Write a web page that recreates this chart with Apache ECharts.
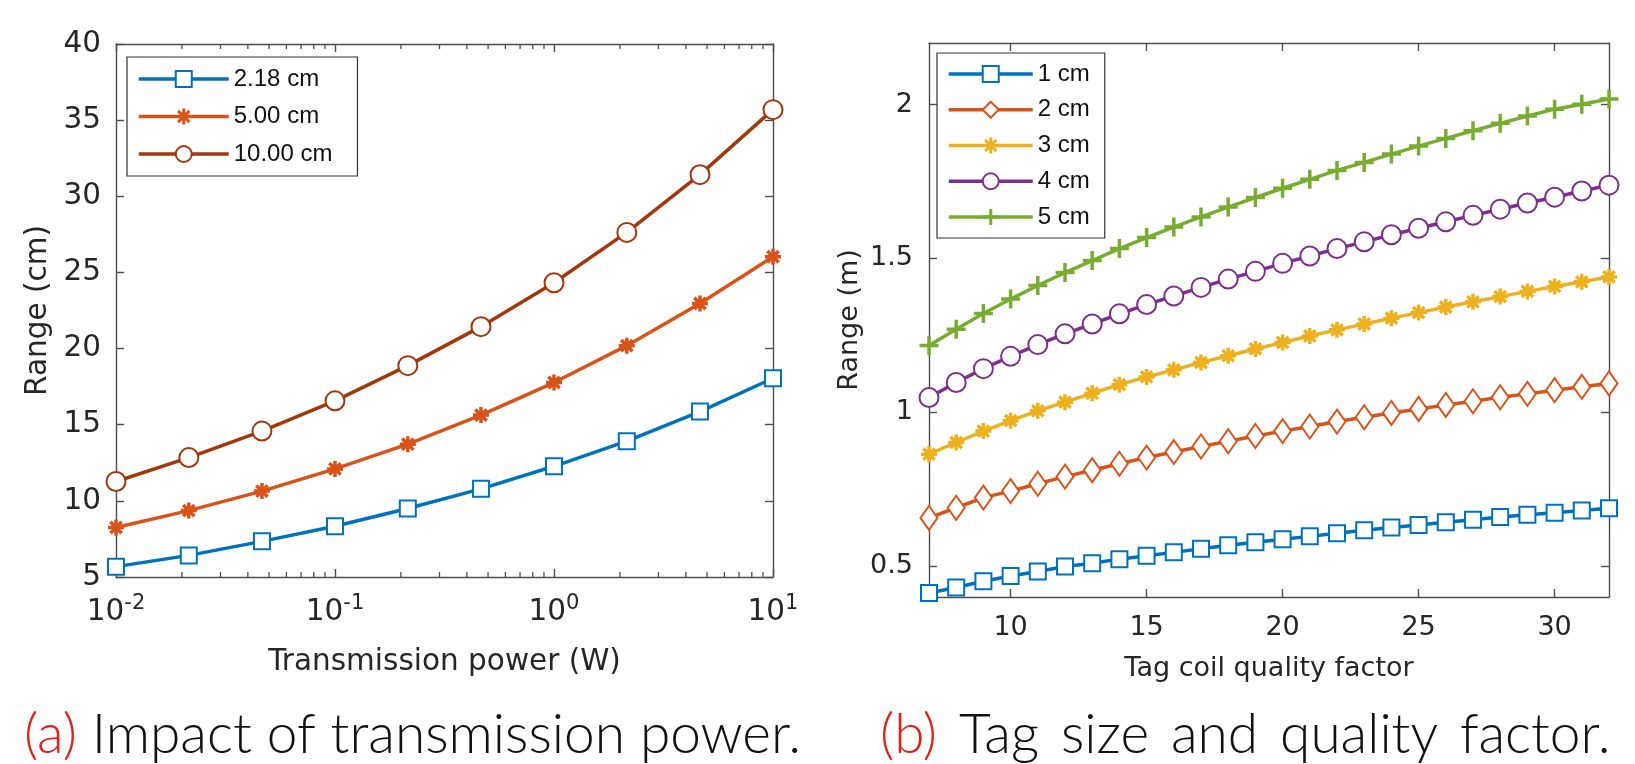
<!DOCTYPE html>
<html>
<head>
<meta charset="utf-8">
<script src="https://cdn.jsdelivr.net/npm/echarts@6/dist/echarts.min.js"></script>
<style>
html,body{margin:0;padding:0;background:#fff;}
#chart{width:1635px;height:764px;}
</style>
</head>
<body>
<div id="chart"></div>
<script>
// ---- Panel (a) data ----
const powerW = [0.01, 0.0215, 0.0464, 0.1, 0.215, 0.464, 1, 2.15, 4.64, 10];
const range218 = [5.68, 6.42, 7.34, 8.33, 9.50, 10.79, 12.27, 13.92, 15.86, 18.05];
const range500 = [8.25, 9.36, 10.64, 12.10, 13.72, 15.63, 17.77, 20.19, 22.96, 26.03];
const range1000 = [11.27, 12.84, 14.58, 16.57, 18.88, 21.44, 24.32, 27.63, 31.42, 35.69];
const minorPowerTicks = [0.02,0.03,0.04,0.05,0.06,0.07,0.08,0.09,0.2,0.3,0.4,0.5,0.6,0.7,0.8,0.9,2,3,4,5,6,7,8,9];
const namesA = ['2.18 cm', '5.00 cm', '10.00 cm'];

// ---- Panel (b) data ----
const qualityFactor = [7,8,9,10,11,12,13,14,15,16,17,18,19,20,21,22,23,24,25,26,27,28,29,30,31,32];
const range1cm = [0.413,0.431,0.451,0.468,0.483,0.499,0.510,0.523,0.534,0.545,0.557,0.568,0.578,0.588,0.597,0.607,0.617,0.626,0.634,0.643,0.651,0.660,0.667,0.674,0.681,0.688];
const range2cm = [0.657,0.690,0.723,0.744,0.768,0.791,0.812,0.833,0.853,0.871,0.889,0.906,0.923,0.939,0.954,0.970,0.984,0.998,1.011,1.024,1.036,1.049,1.060,1.072,1.083,1.094];
const range3cm = [0.864,0.902,0.939,0.973,1.005,1.033,1.062,1.090,1.115,1.138,1.162,1.184,1.206,1.227,1.248,1.268,1.287,1.306,1.324,1.342,1.359,1.376,1.393,1.409,1.424,1.440];
const range4cm = [1.048,1.097,1.142,1.182,1.220,1.255,1.287,1.320,1.350,1.378,1.406,1.433,1.458,1.484,1.508,1.532,1.554,1.577,1.598,1.619,1.640,1.660,1.680,1.699,1.719,1.738];
const range5cm = [1.217,1.270,1.321,1.368,1.412,1.454,1.493,1.532,1.568,1.602,1.635,1.667,1.698,1.728,1.757,1.786,1.812,1.839,1.865,1.890,1.915,1.939,1.963,1.985,2.001,2.018];
const namesB = ['1 cm', '2 cm', '3 cm', '4 cm', '5 cm'];
const qTickLabels = [10, 15, 20, 25, 30];
const rangeMTickLabels = [0.5, 1, 1.5, 2];

const C = {blue:'#0072BD', orange:'#D95319', yellow:'#EDB120', purple:'#7E2F8E', green:'#77AC30', brown:'#A2370A'};
const AX = '#4d4d4d', TXT = '#262626', FONT = 'DejaVu Sans', LFONT = 'Liberation Sans';
const ASTER = 'path://M0,-10L0,10M-10,0L10,0M-7.1,-7.1L7.1,7.1M-7.1,7.1L7.1,-7.1';
const PLUS = 'path://M0,-10L0,10M-10,0L10,0';

function pair(xs, ys){ return xs.map((x,i)=>[x, ys[i]]); }

function lineSeries(name, xi, yi, xs, ys, color, symbol, size, bw){
  return {
    name, type:'line', xAxisIndex:xi, yAxisIndex:yi, data: pair(xs, ys),
    symbol, symbolSize:size, showAllSymbol:true, clip:false,
    lineStyle:{color, width:3.5},
    itemStyle:{color:color, borderColor:color, borderWidth:bw},
    emphasis:{disabled:true}, animation:false
  };
}

const supFmt = v => {
  const e = Math.round(Math.log10(v));
  return '{b|10}{s|' + e + '}';
};

const baseAxisLine = {show:true, lineStyle:{color:AX, width:1.4}};
const tickIn = (len) => ({show:true, inside:true, length:len, lineStyle:{color:AX, width:1.4}});
const capStyle = {fontFamily:'Lato', fontWeight:300, fontSize:55, color:'#111'};
const capRed = {fontFamily:'Lato', fontWeight:300, fontSize:55, color:'#E0221B'};
const legendCommon = {
  orient:'vertical', itemHeight:20, borderColor:'#333', borderWidth:1.2, backgroundColor:'#fff',
  textStyle:{fontFamily:LFONT, fontSize:24, color:'#111'}, selectedMode:false,
  lineStyle:{width:3.5}, itemStyle:{borderWidth:3}
};

const chart = echarts.init(document.getElementById('chart'), null, {renderer:'canvas'});
const option = {
  backgroundColor:'#fff',
  animation:false,
  textStyle:{fontFamily:FONT},
  title:[
    {text:'{r|(a)} Impact of transmission power.', left:19, top:703,
     textStyle:Object.assign({}, capStyle, {rich:{r:capRed}})},
    {text:'{r|(b)}{w| Tag}{w| size}{w| and}{w| quality}{w| factor.}', left:875, top:703,
     textStyle:Object.assign({}, capStyle, {rich:{r:capRed, w:Object.assign({}, capStyle, {padding:[0,0,0,7]})}})}
  ],
  grid:[
    {left:116, top:44, width:657, height:533, show:false},
    {left:929, top:43, width:680, height:554, show:false}
  ],
  legend:[
    Object.assign({}, legendCommon, {data:namesA, left:127, top:57, itemWidth:90, itemGap:13.5,
     padding:[10,25,10,10]}),
    Object.assign({}, legendCommon, {data:namesB, left:937, top:53, itemWidth:84, itemGap:11.75,
     padding:[9,15,9,10]})
  ],
  xAxis:[
    {type:'log', logBase:10, gridIndex:0, min:0.01, max:10, position:'bottom',
     name:'Transmission power (W)', nameLocation:'middle', nameGap:70,
     nameTextStyle:{fontFamily:FONT, fontSize:29.5, color:TXT},
     axisLine:baseAxisLine, axisTick:tickIn(8), splitLine:{show:false},
     axisLabel:{formatter:supFmt, margin:16, color:TXT,
       rich:{b:{fontFamily:FONT, fontSize:29.5, color:TXT}, s:{fontFamily:FONT, fontSize:21, color:TXT, padding:[0,0,18,0]}}}},
    {type:'log', logBase:10, gridIndex:0, min:0.01, max:10, position:'top',
     axisLine:baseAxisLine, axisTick:tickIn(8), axisLabel:{show:false}, splitLine:{show:false}},
    {type:'value', gridIndex:1, min:7, max:32, position:'bottom',
     name:'Tag coil quality factor', nameLocation:'middle', nameGap:58,
     nameTextStyle:{fontFamily:FONT, fontSize:27, color:TXT},
     axisLine:baseAxisLine,
     axisTick:Object.assign(tickIn(8), {customValues:qTickLabels}),
     axisLabel:{customValues:qTickLabels, margin:17, fontFamily:FONT, fontSize:27, color:TXT},
     splitLine:{show:false}},
    {type:'value', gridIndex:1, min:7, max:32, position:'top',
     axisLine:baseAxisLine,
     axisTick:Object.assign(tickIn(8), {customValues:qTickLabels}),
     axisLabel:{show:false}, splitLine:{show:false}}
  ],
  yAxis:[
    {type:'value', gridIndex:0, min:5, max:40, interval:5, position:'left',
     name:'Range (cm)', nameLocation:'middle', nameGap:63, nameRotate:90,
     nameTextStyle:{fontFamily:FONT, fontSize:29.5, color:TXT},
     axisLine:baseAxisLine, axisTick:tickIn(8),
     axisLabel:{margin:15, fontFamily:FONT, fontSize:29.5, color:TXT}, splitLine:{show:false}},
    {type:'value', gridIndex:0, min:5, max:40, interval:5, position:'right',
     axisLine:baseAxisLine, axisTick:tickIn(8), axisLabel:{show:false}, splitLine:{show:false}},
    {type:'value', gridIndex:1, min:0.4, max:2.2, position:'left',
     name:'Range (m)', nameLocation:'middle', nameGap:66, nameRotate:90,
     nameTextStyle:{fontFamily:FONT, fontSize:27, color:TXT},
     axisLine:baseAxisLine,
     axisTick:Object.assign(tickIn(8), {customValues:rangeMTickLabels}),
     axisLabel:{customValues:rangeMTickLabels, margin:16, fontFamily:FONT, fontSize:27, color:TXT},
     splitLine:{show:false}},
    {type:'value', gridIndex:1, min:0.4, max:2.2, position:'right',
     axisLine:baseAxisLine,
     axisTick:Object.assign(tickIn(8), {customValues:rangeMTickLabels}),
     axisLabel:{show:false}, splitLine:{show:false}}
  ],
  series:[
    {
      type:'custom', xAxisIndex:0, yAxisIndex:0, silent:true, animation:false,
      data: minorPowerTicks.map(v=>[v, 5]),
      renderItem:function(params, api){
        const x = api.value(0);
        const b = api.coord([x, 5]);
        const t = api.coord([x, 40]);
        const st = {stroke:AX, lineWidth:1.3};
        return {type:'group', children:[
          {type:'line', shape:{x1:b[0], y1:b[1], x2:b[0], y2:b[1]-5}, style:st},
          {type:'line', shape:{x1:t[0], y1:t[1], x2:t[0], y2:t[1]+5}, style:st}
        ]};
      }
    },
    lineSeries(namesA[0], 0, 0, powerW, range218, C.blue, 'emptyRect', 16, 3),
    lineSeries(namesA[1], 0, 0, powerW, range500, C.orange, ASTER, 16, 3.5),
    lineSeries(namesA[2], 0, 0, powerW, range1000, C.brown, 'emptyCircle', 19, 3),
    lineSeries(namesB[0], 2, 2, qualityFactor, range1cm, C.blue, 'emptyRect', 16, 3),
    lineSeries(namesB[1], 2, 2, qualityFactor, range2cm, C.orange, 'emptyDiamond', [17, 24], 3),
    lineSeries(namesB[2], 2, 2, qualityFactor, range3cm, C.yellow, ASTER, 16, 3.5),
    lineSeries(namesB[3], 2, 2, qualityFactor, range4cm, C.purple, 'emptyCircle', 19, 3),
    lineSeries(namesB[4], 2, 2, qualityFactor, range5cm, C.green, PLUS, 19, 3.5)
  ]
};
chart.setOption(option);
</script>
</body>
</html>
